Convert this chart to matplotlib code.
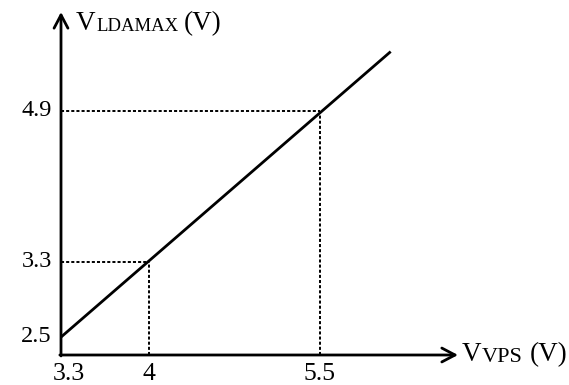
import matplotlib
matplotlib.use("Agg")
import matplotlib.pyplot as plt
import matplotlib.transforms as mtransforms

plt.rcParams['font.family'] = ['Liberation Serif', 'DejaVu Serif']
plt.rcParams['lines.scale_dashes'] = False

# Data
line_vps = [3.23, 6.12]
line_ldamax = [2.5, 5.53]
mark_vps = [4.0, 5.5]
mark_ldamax = [3.3, 4.9]
xticks = [3.3, 4.0, 5.5]
xtick_labels = ['3.3', '4', '5.5']
yticks = [2.5, 3.3, 4.9]
ytick_labels = ['2.5', '3.3', '4.9']

W, H = 569, 385
fig = plt.figure(figsize=(W / 100, H / 100), dpi=100)
x0, x1 = 61, 458
y0, y1 = 355, 12
ax = fig.add_axes([x0 / W, 1 - y0 / H, (x1 - x0) / W, (y0 - y1) / H])
xmin, xmax = 3.23, 6.71
ymin, ymax = 2.31, 5.95
ax.set_xlim(xmin, xmax)
ax.set_ylim(ymin, ymax)
for s in ax.spines.values():
    s.set_visible(False)

# main line
ax.plot(line_vps, line_ldamax, color='black', lw=2.0, solid_capstyle='butt')

# dotted guides
for xv, yv in zip(mark_vps, mark_ldamax):
    ax.plot([xmin, xv], [yv, yv], color='black', lw=1.4, dashes=(2.2, 1.5))
    ax.plot([xv, xv], [ymin, yv], color='black', lw=1.4, dashes=(2.2, 1.5))

# axes with arrows
arrow_style = '->,head_length=0.95,head_width=0.5'
ax.annotate('', xy=(xmax, ymin), xytext=(xmin - 0.01, ymin),
            arrowprops=dict(arrowstyle=arrow_style, lw=2.0, color='black',
                            mutation_scale=10, shrinkA=0, shrinkB=0),
            annotation_clip=False)
ax.annotate('', xy=(xmin, ymax), xytext=(xmin, ymin - 0.01),
            arrowprops=dict(arrowstyle=arrow_style, lw=2.0, color='black',
                            mutation_scale=10, shrinkA=0, shrinkB=0),
            annotation_clip=False)

ax.set_xticks(xticks)
ax.set_xticklabels(xtick_labels, fontsize=18.5)
ax.set_yticks(yticks)
ax.set_yticklabels(ytick_labels, fontsize=17.5)
ax.tick_params(axis='both', length=0, colors='black')
ax.tick_params(axis='x', pad=6)
ax.tick_params(axis='y', pad=6.5)
up = mtransforms.ScaledTranslation(0, 3 / 100, fig.dpi_scale_trans)
for lab in ax.get_yticklabels():
    lab.set_transform(lab.get_transform() + up)

def px(x, y):
    return x / W, 1 - y / H

# y-axis label
fig.text(*px(76, 30), 'V', fontsize=19.5, ha='left', va='baseline')
fig.text(*px(96, 31), 'LDAMAX', fontsize=13.5, ha='left', va='baseline')
fig.text(*px(184, 30), '(V)', fontsize=19.5, ha='left', va='baseline')

# x-axis label
fig.text(*px(462, 361), 'V', fontsize=19.5, ha='left', va='baseline')
fig.text(*px(482, 362), 'VPS', fontsize=16, ha='left', va='baseline')
fig.text(*px(530, 361), '(V)', fontsize=19.5, ha='left', va='baseline')

fig.savefig('out.png', dpi=100)
